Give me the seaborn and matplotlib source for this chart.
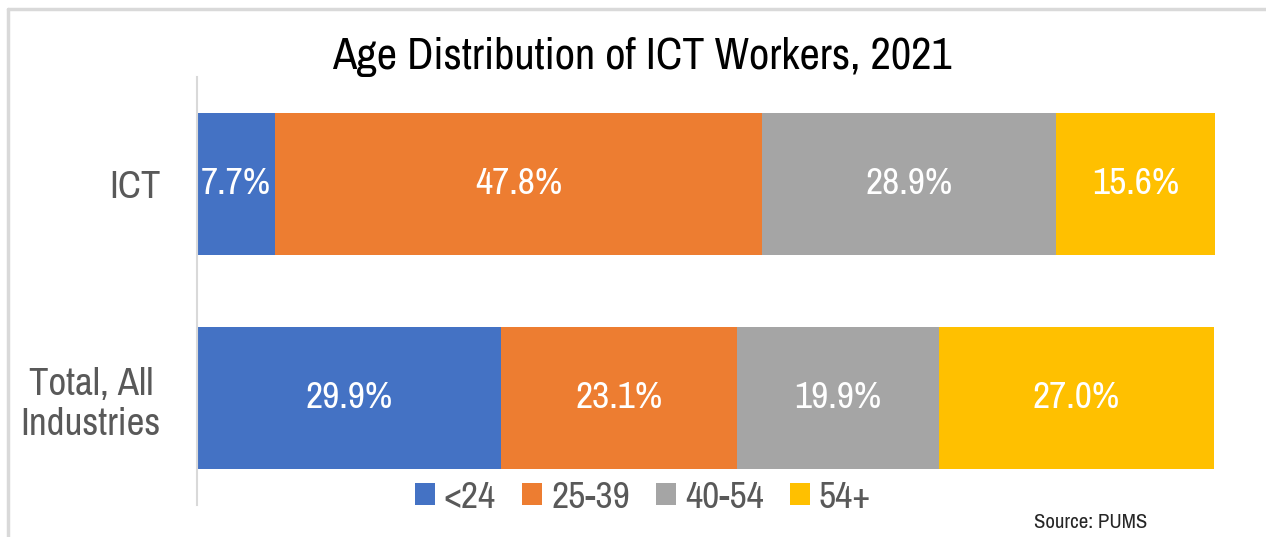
import pandas as pd
import matplotlib
matplotlib.use('Agg')
import matplotlib.pyplot as plt
import seaborn as sns
from matplotlib.lines import Line2D
from matplotlib.patches import Patch

categories = ['ICT', 'Total, All\nIndustries']
age_groups = ['<24', '25-39', '40-54', '54+']
under_24 = [7.7, 29.9]
age_25_39 = [47.8, 23.1]
age_40_54 = [28.9, 19.9]
age_54_plus = [15.6, 27.0]
colors = ['#4472C4', '#ED7D31', '#A5A5A5', '#FFC000']

sns.set_theme(style='white')
plt.rcParams['font.family'] = ['Archivo Narrow', 'Liberation Sans', 'DejaVu Sans']

df = pd.DataFrame({'category': categories, '<24': under_24, '25-39': age_25_39,
                   '40-54': age_40_54, '54+': age_54_plus})
cum = df[age_groups].cumsum(axis=1)

fig = plt.figure(figsize=(12.66, 5.37), dpi=100)
ax = fig.add_axes([197 / 1266, 1 - 505 / 537, (1215 - 197) / 1266, (505 - 77) / 537])

# draw cumulative bars back to front so each segment shows
for grp, col in reversed(list(zip(age_groups, colors))):
    sns.barplot(x=cum[grp], y=df['category'], color=col, width=0.668,
                saturation=1, orient='h', linewidth=0, ax=ax)

for grp in age_groups:
    for i, (v, c) in enumerate(zip(df[grp], cum[grp])):
        ax.text(c - v / 2, i, f'{v:.1f}%', ha='center', va='center',
                color='white', fontsize=27)

ax.set_xlim(0, 100)
ax.set_ylim(1.5, -0.5)
ax.set_xlabel('')
ax.set_ylabel('')
ax.set_xticks([])
for s in ['top', 'right', 'bottom']:
    ax.spines[s].set_visible(False)
ax.spines['left'].set_color('#D9D9D9')
ax.spines['left'].set_linewidth(1.5)
ax.tick_params(axis='y', length=0, pad=26)
for lab in ax.get_yticklabels():
    lab.set_fontsize(28)
    lab.set_color('#595959')
    lab.set_multialignment('center')

fig.text(642 / 1266, 1 - 57 / 537, 'Age Distribution of ICT Workers, 2021',
         ha='center', va='center', fontsize=32, color='black')

handles = [Patch(facecolor=c, edgecolor='none') for c in colors]
leg = fig.legend(handles, age_groups, loc='center', bbox_to_anchor=(643 / 1266, 1 - 497 / 537),
                 ncol=4, frameon=False, fontsize=27, handlelength=0.53, handleheight=0.53,
                 handletextpad=0.24, columnspacing=0.7, borderaxespad=0, borderpad=0)
for t in leg.get_texts():
    t.set_color('#595959')

fig.text(1147 / 1266, 1 - 522 / 537, 'Source: PUMS', ha='right', va='center',
         fontsize=15, color='#262626')

# chart border
fig.add_artist(Line2D([8 / 1266, 1.01], [1 - 9 / 537, 1 - 9 / 537], color='#D9D9D9', lw=2.5))
fig.add_artist(Line2D([8 / 1266, 8 / 1266], [1 - 9 / 537, -0.01], color='#D9D9D9', lw=2.5))

fig.savefig('out.png', dpi=100)
